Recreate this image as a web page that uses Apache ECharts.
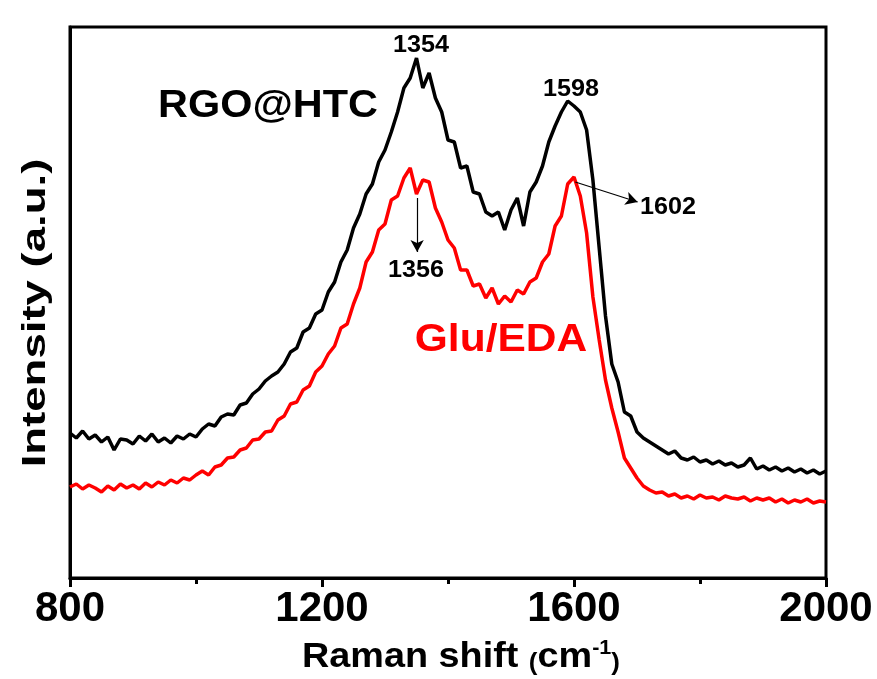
<!DOCTYPE html>
<html>
<head>
<meta charset="utf-8">
<script src="https://cdn.jsdelivr.net/npm/echarts@6/dist/echarts.min.js"></script>
<style>
html,body{margin:0;padding:0;background:#fff;}
#c{width:877px;height:679px;}
</style>
</head>
<body>
<div id="c"></div>
<script>
// Raman shift (cm-1)
var ramanShift = [800,810,820,830,840,850,860,870,880,890,900,910,920,930,940,950,960,970,980,990,
1000,1010,1020,1030,1040,1050,1060,1070,1080,1090,1100,1110,1120,1130,1140,1150,1160,1170,1180,1190,
1200,1210,1220,1230,1240,1250,1260,1270,1280,1290,1300,1310,1320,1330,1340,1350,1360,1370,1380,1390,
1400,1410,1420,1430,1440,1450,1460,1470,1480,1490,1500,1510,1520,1530,1540,1550,1560,1570,1580,1590,
1600,1610,1620,1630,1640,1650,1660,1670,1680,1690,1700,1710,1720,1730,1740,1750,1760,1770,1780,1790,
1800,1810,1820,1830,1840,1850,1860,1870,1880,1890,1900,1910,1920,1930,1940,1950,1960,1970,1980,1990,2000];

// RGO@HTC intensity (a.u.)
var rgoHtc = [145,140,147,139,143,136,141,128,139,138,134,142,137,144,136,140,135,142,139,144,
141,149,154,152,161,164,163,173,175,184,189,197,202,206,214,226,230,246,250,264,
268,286,296,316,328,350,364,384,394,416,428,446,466,490,500,520,490,505,480,466,
438,436,410,412,386,384,366,362,366,348,368,380,352,386,396,412,436,452,466,477,
472,466,448,398,330,262,214,196,166,162,146,140,136,132,128,124,127,120,118,121,
116,118,114,117,113,115,111,113,120,109,112,108,111,107,110,106,109,105,108,104,107];

// Glu/EDA intensity (a.u.)
var gluEda = [91,94,89,93,90,86,92,88,94,90,93,89,95,91,96,93,98,95,100,98,
103,107,103,111,113,120,121,128,130,138,139,146,147,158,162,174,176,188,192,206,
212,224,232,250,254,274,290,316,326,348,354,378,382,400,410,384,398,396,370,356,
338,330,308,308,292,294,280,290,274,282,276,288,284,296,300,316,324,352,362,394,
401,382,345,281,238,198,170,146,120,110,100,92,88,85,86,82,84,80,82,79,
83,80,81,78,82,80,79,81,77,80,78,80,76,79,75,78,76,79,75,77,76];

var xTicks = [800,1200,1600,2000];
var peakLabels = ['1354','1598','1602','1356'];
// arrows: [fromShift, fromIntensity, toShift, toIntensity]
var arrow1602 = [1602, 396, 1701, 376];
var arrow1356 = [1351, 380, 1351, 326];

function pairs(xs, ys){ var o=[]; for(var i=0;i<xs.length;i++){o.push([xs[i],ys[i]]);} return o; }

var FONT = '"Liberation Sans", Arial, sans-serif';
var chart = echarts.init(document.getElementById('c'), null, {renderer:'canvas'});
chart.setOption({
  animation:false,
  backgroundColor:'#fff',
  grid:{left:70,right:51,top:27,bottom:101,show:true,borderColor:'#000',borderWidth:3,backgroundColor:'transparent'},
  xAxis:{
    type:'value',min:800,max:2000,interval:400,
    axisLine:{show:true,lineStyle:{color:'#000',width:3}},
    axisTick:{show:true,inside:false,length:9,lineStyle:{color:'#000',width:3}},
    minorTick:{show:true,splitNumber:2,length:6,lineStyle:{color:'#000',width:3}},
    splitLine:{show:false},minorSplitLine:{show:false},
    axisLabel:{show:true,color:'#000',fontSize:42,fontWeight:'bold',fontFamily:FONT,margin:10,
      showMinLabel:true,showMaxLabel:true,
      formatter:function(v){return xTicks.indexOf(v)>=0?String(v):'';}}
  },
  yAxis:{
    type:'value',min:0,max:551,
    axisLine:{show:true,lineStyle:{color:'#000',width:3}},
    axisTick:{show:false},axisLabel:{show:false},splitLine:{show:false}
  },
  series:[
    {name:'RGO@HTC',type:'line',data:pairs(ramanShift,rgoHtc),showSymbol:false,symbol:'none',
     lineStyle:{color:'#000',width:3.5},itemStyle:{color:'#000'},z:3,
     markLine:{silent:true,symbol:['none','arrow'],symbolSize:[10,12],
       lineStyle:{color:'#000',width:1.2,type:'solid'},label:{show:false},
       data:[
         [{coord:[arrow1602[0],arrow1602[1]]},{coord:[arrow1602[2],arrow1602[3]]}],
         [{coord:[arrow1356[0],arrow1356[1]]},{coord:[arrow1356[2],arrow1356[3]]}]
       ]}
    },
    {name:'Glu/EDA',type:'line',data:pairs(ramanShift,gluEda),showSymbol:false,symbol:'none',
     lineStyle:{color:'#ff0000',width:3.5},itemStyle:{color:'#ff0000'},z:2}
  ],
  graphic:[
    {type:'text',x:461,y:657,scaleX:1.08,style:{text:'{a|Raman shift }{p|(}{a|cm}{s|-1}{p|)}',align:'center',verticalAlign:'middle',
      rich:{a:{fontSize:35,fontWeight:'bold',fontFamily:FONT,fill:'#000'},
            p:{fontSize:24,fontWeight:'bold',fontFamily:FONT,fill:'#000',padding:[12,0,0,0]},
            s:{fontSize:20,fontWeight:'bold',fontFamily:FONT,fill:'#000',padding:[0,0,18,0]}}}},
    {type:'text',x:36,y:313,rotation:Math.PI/2,scaleX:1.38,style:{text:'Intensity (a.u.)',align:'center',verticalAlign:'middle',
      font:'bold 33px '+FONT,fill:'#000'}},
    {type:'text',x:268,y:107,scaleX:1.09,style:{text:'RGO@HTC',align:'center',verticalAlign:'middle',font:'bold 38px '+FONT,fill:'#000'}},
    {type:'text',x:501,y:340,scaleX:1.09,style:{text:'Glu/EDA',align:'center',verticalAlign:'middle',font:'bold 39px '+FONT,fill:'#ff0000'}},
    {type:'text',x:421,y:45,scaleX:1.05,style:{text:peakLabels[0],align:'center',verticalAlign:'middle',font:'bold 24px '+FONT,fill:'#000'}},
    {type:'text',x:571,y:89,scaleX:1.05,style:{text:peakLabels[1],align:'center',verticalAlign:'middle',font:'bold 24px '+FONT,fill:'#000'}},
    {type:'text',x:668,y:207,scaleX:1.05,style:{text:peakLabels[2],align:'center',verticalAlign:'middle',font:'bold 24px '+FONT,fill:'#000'}},
    {type:'text',x:416,y:270,scaleX:1.05,style:{text:peakLabels[3],align:'center',verticalAlign:'middle',font:'bold 24px '+FONT,fill:'#000'}}
  ]
});
</script>
</body>
</html>
